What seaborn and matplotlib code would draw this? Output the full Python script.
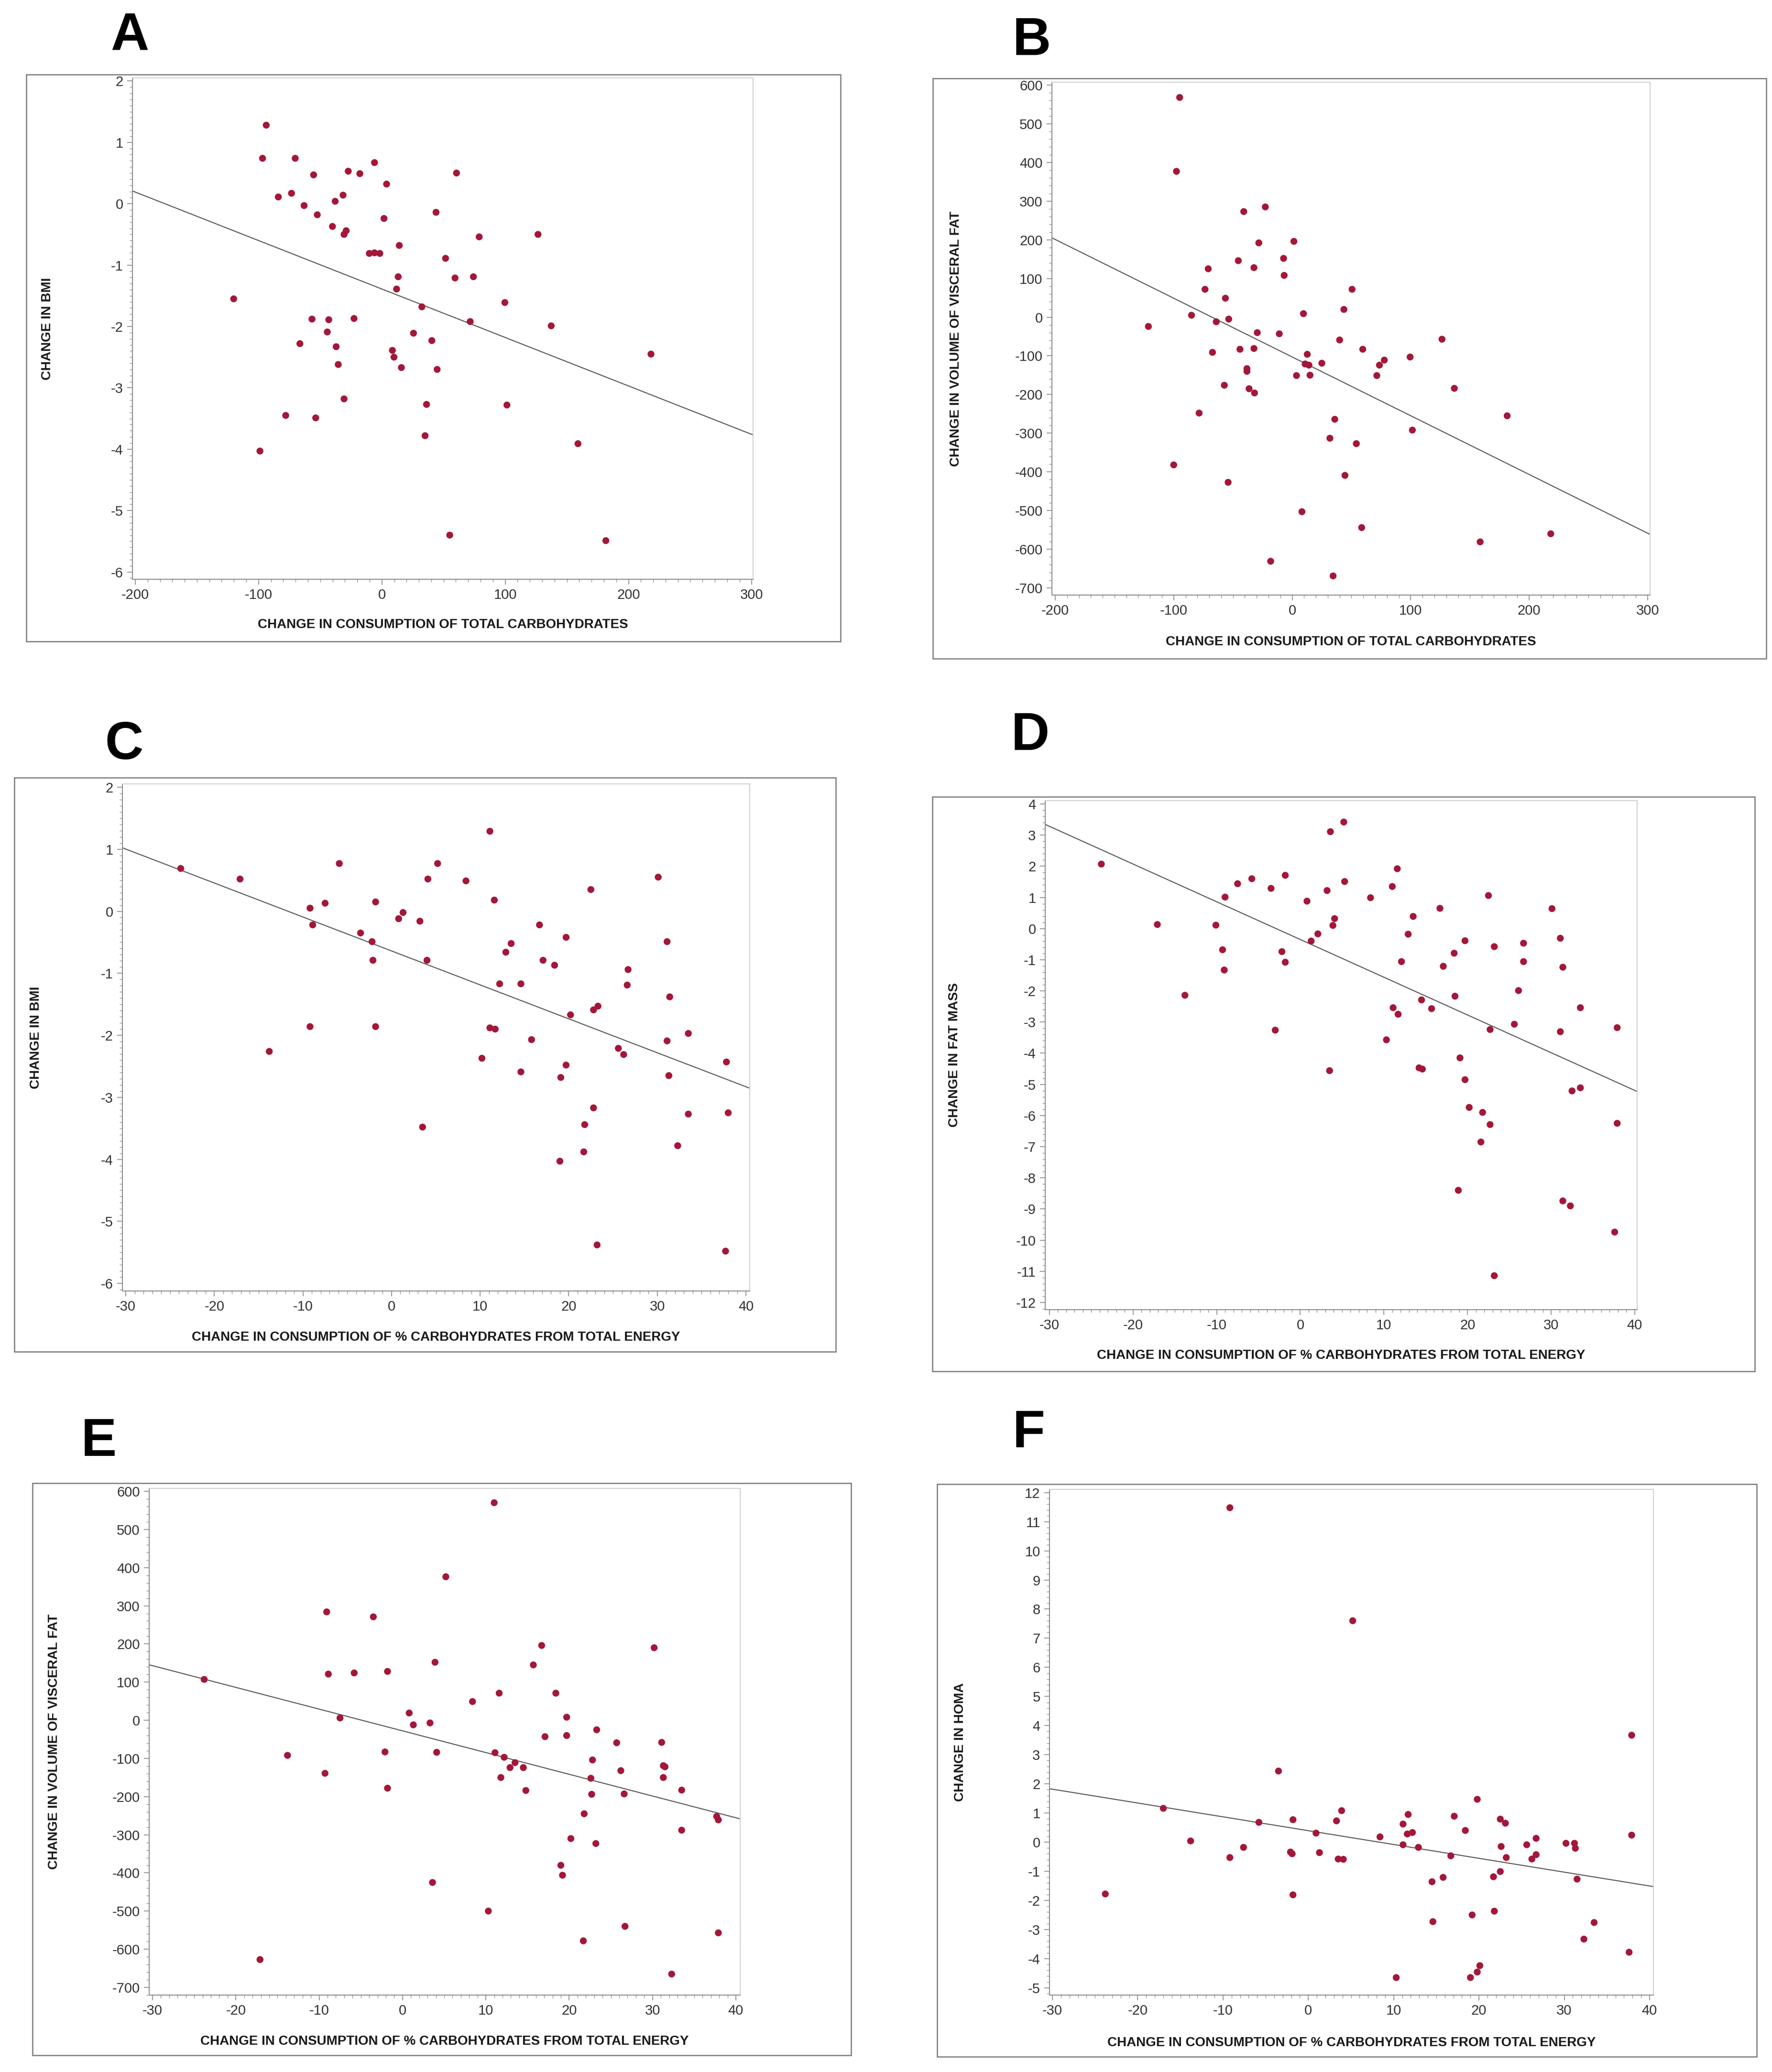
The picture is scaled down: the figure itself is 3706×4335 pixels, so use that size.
import numpy as np
import pandas as pd
import matplotlib
matplotlib.use("Agg")
import matplotlib.pyplot as plt
import seaborn as sns
from matplotlib.ticker import MultipleLocator, AutoMinorLocator
from matplotlib.patches import Rectangle
from matplotlib import font_manager

# ---------------- data ----------------
A_x = [-93.8, -96.8, -70.3, -55.4, -27.3, -17.9, -6.0, 3.8, 60.5, -84.0, -73.3, -63.1, -52.4, -37.9, -31.5,
       -40.1, -30.7, -29.0, 1.7, 43.9, 78.9, 126.6, -10.2, -6.0, -1.7, 14.1, 51.6, 13.2, 11.9, 59.3, 74.2,
       -120.2, 32.4, 99.7, -56.7, -43.1, -22.6, 71.6, 137.3, -44.3, 25.6, -66.5, -37.1, 40.5, 8.5, 9.8,
       218.2, -35.4, 15.8, 44.8, -30.7, 36.2, 101.4, -78.0, -53.7, 35.0, 159.0, -98.9, 55.0, 181.6]
A_y = [1.28, 0.74, 0.74, 0.47, 0.53, 0.49, 0.67, 0.32, 0.50, 0.11, 0.17, -0.03, -0.18, 0.04, 0.14,
       -0.37, -0.50, -0.44, -0.24, -0.14, -0.54, -0.50, -0.81, -0.80, -0.81, -0.68, -0.89, -1.19, -1.39,
       -1.21, -1.19, -1.55, -1.68, -1.61, -1.88, -1.89, -1.87, -1.92, -1.99, -2.09, -2.11, -2.28, -2.33,
       -2.23, -2.39, -2.50, -2.45, -2.62, -2.67, -2.70, -3.18, -3.27, -3.28, -3.45, -3.49, -3.78, -3.91,
       -4.03, -5.40, -5.49]

B_x = [-95.0, -97.7, -40.9, -22.7, -28.2, 1.4, -45.5, -7.3, -70.9, -32.3, -6.8, -73.6, 50.5, -56.4, -85.0,
       -53.6, -64.1, -121.4, 9.5, 43.6, -29.5, -10.9, 40.0, 126.4, -44.1, -32.3, -67.3, 59.5, 12.7, 77.7,
       99.5, 10.9, 14.1, 25.0, 73.6, -38.2, -38.2, 3.6, 15.0, 71.4, -57.3, -36.4, -31.8, 136.8, -78.6,
       181.4, 35.9, 101.4, 31.8, 54.1, -100.0, -54.1, 44.5, 8.2, 58.6, 158.6, 218.2, -18.2, 34.5]
B_y = [568, 377, 273, 285, 192, 196, 146, 152, 125, 128, 108, 72, 72, 49, 5, -5, -12, -24, 9, 20,
       -40, -43, -59, -57, -83, -81, -91, -83, -96, -111, -103, -121, -124, -119, -124, -133, -140, -151,
       -150, -151, -176, -185, -196, -184, -248, -255, -264, -292, -313, -327, -382, -427, -409, -503,
       -544, -581, -560, -631, -669]

C_x = [11.1, -23.8, -17.1, -5.9, 5.2, 4.1, 8.4, 30.1, 22.5, 11.6, -9.2, -7.5, -1.8, 1.3, 0.8, 3.2, -8.9,
       -3.5, 16.7, -2.2, 19.7, 31.1, 13.5, 12.9, -2.1, 4.0, 17.1, 18.4, 26.7, 12.2, 14.6, 26.6, 31.4, 22.8,
       23.3, 20.2, -9.2, -1.8, 11.1, 11.7, 33.5, 15.8, 31.1, -13.8, 25.6, 26.2, 10.2, 37.8, 19.7, 14.6,
       19.1, 31.3, 22.8, 33.5, 38.0, 3.5, 21.8, 32.3, 21.7, 19.0, 23.2, 37.7]
C_y = [1.29, 0.69, 0.52, 0.77, 0.77, 0.52, 0.49, 0.55, 0.35, 0.18, 0.05, 0.13, 0.15, -0.02, -0.12, -0.16,
       -0.22, -0.35, -0.22, -0.49, -0.42, -0.49, -0.52, -0.66, -0.79, -0.79, -0.79, -0.87, -0.94, -1.17,
       -1.17, -1.19, -1.38, -1.59, -1.53, -1.67, -1.86, -1.86, -1.88, -1.90, -1.97, -2.07, -2.09, -2.26,
       -2.21, -2.31, -2.37, -2.43, -2.48, -2.59, -2.68, -2.65, -3.17, -3.27, -3.25, -3.48, -3.44, -3.78,
       -3.88, -4.03, -5.38, -5.48]

D_x = [5.2, 3.6, -23.8, 11.6, -1.8, -5.8, -7.5, 5.3, -3.5, 3.2, 11.0, -9.0, 8.4, 22.5, 0.8, 16.7, 30.1,
       13.5, 4.1, -17.1, -10.1, 3.9, 2.1, 12.9, 31.1, 1.3, 19.7, 26.7, 23.2, -9.3, -2.2, 18.4, -1.8, 12.1,
       26.7, 17.1, 31.4, -9.1, 26.1, -13.8, 18.5, 14.5, 11.1, 33.5, 15.7, 11.7, 25.6, -3.0, 22.7, 37.9,
       31.1, 10.3, 19.1, 14.2, 14.6, 3.5, 19.7, 33.5, 32.5, 20.2, 21.8, 22.7, 37.9, 21.6, 18.9, 31.4, 32.3,
       37.6, 23.2]
D_y = [3.42, 3.11, 2.07, 1.92, 1.71, 1.60, 1.44, 1.51, 1.29, 1.22, 1.35, 1.01, 0.99, 1.06, 0.88, 0.65,
       0.64, 0.39, 0.32, 0.13, 0.11, 0.10, -0.17, -0.18, -0.31, -0.40, -0.39, -0.47, -0.58, -0.68, -0.74,
       -0.79, -1.08, -1.06, -1.06, -1.21, -1.24, -1.33, -1.99, -2.14, -2.17, -2.29, -2.54, -2.54, -2.57,
       -2.75, -3.07, -3.26, -3.24, -3.18, -3.31, -3.57, -4.15, -4.47, -4.51, -4.56, -4.85, -5.11, -5.21,
       -5.74, -5.90, -6.29, -6.25, -6.85, -8.40, -8.74, -8.90, -9.74, -11.14]

E_x = [11.0, 5.2, -9.1, -3.5, 16.7, 30.2, 3.9, 15.7, -1.8, -5.8, -8.9, -23.8, 11.6, 18.4, 8.4, 0.8, -7.5,
       19.7, 1.3, 3.3, 23.3, 17.1, 19.7, 25.7, 31.1, -13.8, -2.1, 4.1, 11.1, 12.2, 22.8, 13.5, 31.3, 31.5,
       12.9, 14.5, 26.2, -9.3, 11.8, 22.6, 31.3, -1.8, 14.8, 33.5, 22.7, 26.6, 21.8, 37.7, 37.9, 33.5,
       20.2, 23.2, 19.0, 19.2, 3.6, 10.3, 26.7, 37.9, 21.7, -17.1, 32.3]
E_y = [570, 376, 284, 271, 196, 190, 152, 145, 128, 124, 121, 107, 71, 71, 49, 19, 6, 8, -12, -7, -25,
       -43, -40, -59, -58, -92, -83, -84, -85, -97, -104, -111, -119, -122, -124, -124, -132, -139, -150,
       -152, -150, -178, -184, -183, -194, -193, -245, -252, -261, -288, -310, -323, -380, -406, -425,
       -500, -540, -557, -578, -627, -665]

F_x = [-9.2, 5.2, 37.9, -3.5, 19.8, -17.0, 3.9, 11.7, 17.1, -1.8, 3.3, 22.5, -5.8, 23.1, 11.1, 18.4, 0.9,
       11.6, 12.2, 37.9, 8.4, 26.7, -13.8, 30.2, 31.2, 25.6, 11.1, 31.3, -7.6, 22.6, 12.9, -2.1, -1.9, 1.3,
       26.7, 16.7, -9.2, 3.5, 4.1, 23.2, 26.2, 22.5, 15.8, 21.7, 31.5, 14.5, -23.8, -1.8, 21.8, 19.2, 14.6,
       33.5, 32.3, 37.6, 20.1, 19.8, 10.3, 19.0]
F_y = [11.48, 7.60, 3.67, 2.44, 1.47, 1.16, 1.08, 0.95, 0.89, 0.77, 0.73, 0.79, 0.68, 0.65, 0.62, 0.40,
       0.31, 0.28, 0.33, 0.24, 0.18, 0.13, 0.04, -0.04, -0.04, -0.09, -0.09, -0.21, -0.18, -0.15, -0.18,
       -0.34, -0.40, -0.36, -0.43, -0.47, -0.53, -0.58, -0.59, -0.53, -0.58, -1.01, -1.21, -1.19, -1.27,
       -1.36, -1.78, -1.81, -2.37, -2.50, -2.73, -2.76, -3.33, -3.78, -4.24, -4.46, -4.65, -4.65]

panel_letters = ["A", "B", "C", "D", "E", "F"]
xlabel_total = "CHANGE IN CONSUMPTION OF TOTAL CARBOHYDRATES"
xlabel_pct = "CHANGE IN CONSUMPTION OF % CARBOHYDRATES FROM TOTAL ENERGY"
ylabels = ["CHANGE IN BMI", "CHANGE IN VOLUME OF VISCERAL FAT", "CHANGE IN BMI",
           "CHANGE IN FAT MASS", "CHANGE IN VOLUME OF VISCERAL FAT", "CHANGE IN HOMA"]

# ---------------- style ----------------
sns.set_theme(style="white")
names = {f.name for f in font_manager.fontManager.ttflist}
narrow = "Liberation Sans Narrow" if "Liberation Sans Narrow" in names else "Liberation Sans"
plt.rcParams["font.family"] = [narrow, "DejaVu Sans"]
plt.rcParams["axes.unicode_minus"] = False

W, H, DPI = 3706, 4335, 200
fig = plt.figure(figsize=(W / DPI, H / DPI), dpi=DPI)
fig.patch.set_facecolor("white")

DOT = "#A3173A"
LINE = "#555555"

layout = [
    dict(data=(A_x, A_y), box=(277, 163, 1575, 1212), frame=(55, 156, 1758, 1342), let=(231, 104),
         xlim=(-202.3, 301.0), ylim=(-6.12, 2.05), xmaj=100, ymaj=1, ymin=10, xl=xlabel_total,
         ylx=-0.137, xly=-0.0906),
    dict(data=(B_x, B_y), box=(2200, 172, 3451, 1245), frame=(1951, 164, 3694, 1378), let=(2118, 115),
         xlim=(-202.8, 302), ylim=(-718.5, 607.4), xmaj=100, ymaj=100, ymin=5, xl=xlabel_total,
         ylx=-0.161, xly=-0.0913),
    dict(data=(C_x, C_y), box=(256, 1640, 1568, 2701), frame=(30, 1627, 1748, 2828), let=(220, 1588),
         xlim=(-30.38, 40.43), ylim=(-6.123, 2.054), xmaj=10, ymaj=1, ymin=10, xl=xlabel_pct,
         ylx=-0.1376, xly=-0.0914),
    dict(data=(D_x, D_y), box=(2186, 1675, 3424, 2740), frame=(1950, 1667, 3670, 2869), let=(2115, 1569),
         xlim=(-30.51, 40.29), ylim=(-12.23, 4.107), xmaj=10, ymaj=1, ymin=5, xl=xlabel_pct,
         ylx=-0.1535, xly=-0.0906),
    dict(data=(E_x, E_y), box=(312, 3114, 1548, 4174), frame=(68, 3103, 1780, 4300), let=(170, 3046),
         xlim=(-30.4, 40.52), ylim=(-720, 607.5), xmaj=10, ymaj=100, ymin=5, xl=xlabel_pct,
         ylx=-0.161, xly=-0.0915),
    dict(data=(F_x, F_y), box=(2195, 3116, 3458, 4174), frame=(1960, 3105, 3674, 4303), let=(2118, 3028),
         xlim=(-30.34, 40.45), ylim=(-5.25, 12.11), xmaj=10, ymaj=1, ymin=5, xl=xlabel_pct,
         ylx=-0.148, xly=-0.0945),
]

for i, p in enumerate(layout):
    # outer panel frame
    fl, ft, fr, fb = p["frame"]
    fig.patches.append(Rectangle((fl / W, 1 - fb / H), (fr - fl) / W, (fb - ft) / H,
                                 transform=fig.transFigure, fill=False, edgecolor="#7a7a7a",
                                 linewidth=0.9, zorder=0))
    l, t, r, b = p["box"]
    ax = fig.add_axes([l / W, 1 - b / H, (r - l) / W, (b - t) / H])
    ax.set_xlim(*p["xlim"])
    ax.set_ylim(*p["ylim"])
    df = pd.DataFrame({"x": p["data"][0], "y": p["data"][1]})
    sns.regplot(data=df, x="x", y="y", ax=ax, ci=None, truncate=False,
                scatter_kws=dict(s=27, color=DOT, edgecolor="none", alpha=1, zorder=3),
                line_kws=dict(color=LINE, lw=0.75, zorder=2))
    ax.set_xlim(*p["xlim"])
    ax.set_ylim(*p["ylim"])

    ax.xaxis.set_major_locator(MultipleLocator(p["xmaj"]))
    ax.yaxis.set_major_locator(MultipleLocator(p["ymaj"]))
    ax.xaxis.set_minor_locator(AutoMinorLocator(10))
    ax.yaxis.set_minor_locator(AutoMinorLocator(p["ymin"]))
    ax.tick_params(which="both", bottom=True, left=True, top=False, right=False, direction="out",
                   color="#8a8a8a")
    ax.tick_params(which="major", length=4, width=0.6, labelsize=10.5, labelcolor="#333333", pad=3)
    ax.tick_params(which="minor", length=2, width=0.45)

    for side in ["left", "bottom"]:
        ax.spines[side].set_color("#8a8a8a")
        ax.spines[side].set_linewidth(0.7)
    for side in ["top", "right"]:
        ax.spines[side].set_color("#cfcfcf")
        ax.spines[side].set_linewidth(0.7)

    ax.set_xlabel(p["xl"], fontsize=10, fontweight="bold", color="#1a1a1a")
    ax.set_ylabel(ylabels[i], fontsize=10, fontweight="bold", color="#1a1a1a")
    ax.xaxis.set_label_coords(0.5, p["xly"])
    ax.yaxis.set_label_coords(p["ylx"], 0.5)
    ax.xaxis.label.set_va("center")
    ax.yaxis.label.set_va("center")

    lx, ly = p["let"]
    fig.text(lx / W, 1 - ly / H, panel_letters[i], fontsize=40, fontweight="bold",
             color="black", ha="left", va="baseline", family=["Liberation Sans", "DejaVu Sans"])

fig.savefig("out.png", dpi=DPI, facecolor="white")
